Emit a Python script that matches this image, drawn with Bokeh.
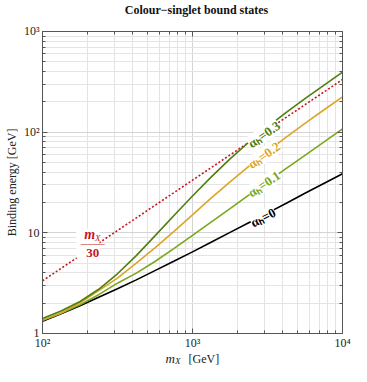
from bokeh.plotting import figure
from bokeh.models import FixedTicker, LogAxis, Label, BoxAnnotation, Range1d
from bokeh.embed import file_html
from bokeh.resources import INLINE

# ---- data ----
mass = [100, 133, 178, 237, 316, 422, 562, 750, 1000,
        1330, 1780, 2370, 3160, 4220, 5620, 7500, 10000]
eb_alpha_0 = [1.32, 1.57, 1.89, 2.29, 2.78, 3.41, 4.21, 5.21, 6.47,
              8.07, 10.1, 12.6, 15.7, 19.7, 24.7, 30.9, 38.6]
eb_alpha_01 = [1.35, 1.585, 1.93, 2.43, 3.16, 3.98, 5.19, 6.96, 9.42,
               12.8, 17.4, 23.7, 32.1, 43.6, 58.9, 79.6, 108]
eb_alpha_02 = [1.35, 1.60, 2.02, 2.67, 3.55, 5.01, 7.08, 10.3, 15.1,
               22.1, 32.1, 45.8, 64.4, 89.1, 122, 166, 224]
eb_alpha_03 = [1.41, 1.67, 2.08, 2.75, 3.92, 5.93, 9.33, 14.8, 23.2,
               35.8, 54.2, 79.4, 113, 157, 215, 292, 395]
ref_mass = [100, 10000]
ref_energy = [3.333, 333.3]          # m_X / 30

x_major = [100, 1000, 10000]
x_minor = [200, 300, 400, 500, 600, 700, 800, 900,
           2000, 3000, 4000, 5000, 6000, 7000, 8000, 9000]
y_major = [1, 10, 100, 1000]
y_minor = [2, 3, 4, 5, 6, 7, 8, 9, 20, 30, 40, 50, 60, 70, 80, 90,
           200, 300, 400, 500, 600, 700, 800, 900]
x_tick_labels = {100: "10²", 1000: "10³", 10000: "10⁴"}
y_tick_labels = {1: "1", 10: "10", 100: "10²", 1000: "10³"}
X_MIN, X_MAX, Y_MIN, Y_MAX = 100, 10000, 1, 1000

series = [
    (eb_alpha_0, "#000000", "αₕ=0", 2960, 14.2, 27),
    (eb_alpha_01, "#79a81b", "αₕ=0.1", 3000, 30.6, 34),
    (eb_alpha_02, "#dba628", "αₕ=0.2", 3000, 59, 35),
    (eb_alpha_03, "#4f7d0f", "αₕ=0.3", 3000, 95, 35),
]
RED = "#c4161c"
FONT = "Liberation Serif"
AX = "#555555"
TXT = "#222222"

# The frame fills the whole canvas; the axes sit at fixed data locations
# inside it, so tick labels, axis titles and the title are never clipped.
p = figure(width=351, height=366, x_axis_type="log", y_axis_type="log",
           x_range=Range1d(52.5, 11480), y_range=Range1d(0.470, 2032),
           output_backend="svg", toolbar_location=None, min_border=0)
p.outline_line_color = None
p.title.text = ""
p.title.visible = False

xt = FixedTicker(ticks=x_major, minor_ticks=x_minor)
yt = FixedTicker(ticks=y_major, minor_ticks=y_minor)
p.xaxis.ticker = xt
p.yaxis.ticker = yt
p.xgrid.ticker = xt
p.ygrid.ticker = yt
p.xaxis.major_label_overrides = x_tick_labels
p.yaxis.major_label_overrides = y_tick_labels
p.xaxis.fixed_location = Y_MIN
p.yaxis.fixed_location = X_MIN
p.xaxis.bounds = (X_MIN, X_MAX)
p.yaxis.bounds = (Y_MIN, Y_MAX)

for g in (p.xgrid, p.ygrid):
    g.grid_line_color = "#d4d4d4"
    g.minor_grid_line_color = "#e4e4e4"
    g.grid_line_alpha = 1

# white strips outside the plotting box hide the grid there
for kw in (dict(top=Y_MIN), dict(bottom=Y_MAX),
           dict(right=X_MIN), dict(left=X_MAX)):
    p.add_layout(BoxAnnotation(fill_color="white", fill_alpha=1,
                               line_color=None, level="underlay", **kw))

for ax in (p.xaxis, p.yaxis):
    ax.major_tick_in = 5
    ax.major_tick_out = 0
    ax.minor_tick_in = 3
    ax.minor_tick_out = 0
    ax.axis_line_color = AX
    ax.major_tick_line_color = AX
    ax.minor_tick_line_color = AX
    ax.major_label_text_font = FONT
    ax.major_label_text_font_size = "12px"
    ax.major_label_text_color = TXT
    ax.major_label_standoff = 3

p.yaxis.axis_label = "Binding energy [GeV]"
p.yaxis.axis_label_text_font = FONT
p.yaxis.axis_label_text_font_style = "normal"
p.yaxis.axis_label_text_font_size = "12px"
p.yaxis.axis_label_text_color = TXT
p.yaxis.axis_label_standoff = 2

# right and top edges of the plotting box, with inward ticks
for loc, tk, fixed, bnd in (("right", yt, X_MAX, (Y_MIN, Y_MAX)),
                            ("above", xt, Y_MAX, (X_MIN, X_MAX))):
    a = LogAxis(ticker=tk, fixed_location=fixed, bounds=bnd,
                major_label_text_color=None, major_label_text_font_size="1px",
                major_label_standoff=0, major_tick_in=5, major_tick_out=0,
                minor_tick_in=3, minor_tick_out=0,
                axis_line_color=AX, major_tick_line_color=AX,
                minor_tick_line_color=AX)
    p.add_layout(a, loc)

# title
p.add_layout(Label(x=1000, x_offset=4, y=357, y_units="screen",
                   text="Colour−singlet bound states", text_align="center",
                   text_baseline="middle", text_font=FONT,
                   text_font_style="bold", text_font_size="12px",
                   text_color="#111111"))

# reference line m_X/30
p.line(ref_mass, ref_energy, line_color=RED, line_width=1.6, line_dash="2 2")

for vals, col, txt, lx, ly, ang in series:
    p.line(mass, vals, line_color=col, line_width=1.6)

for vals, col, txt, lx, ly, ang in series:
    p.add_layout(Label(x=lx, y=ly, text=txt, angle=ang, angle_units="deg",
                       text_align="center", text_baseline="middle",
                       text_font=FONT, text_font_style="bold",
                       text_font_size="13px", text_color=col,
                       background_fill_color="white"))

# m_X / 30 fraction label
p.add_layout(BoxAnnotation(left=168, right=240, bottom=5.6, top=11,
                           fill_color="white", fill_alpha=1, line_color=None))
fx, fy = 216, 8.0
frac = [("m", -3, 8, "bold italic", "14px"),
        ("X", 5, 5, "italic", "9px"),
        ("——", 0, 0, "normal", "12px"),
        ("30", 0, -10, "bold", "13px")]
for t, dx, dy, st, sz in frac:
    p.add_layout(Label(x=fx, y=fy, x_offset=dx, y_offset=dy, text=t,
                       text_align="center", text_baseline="middle",
                       text_font=FONT, text_font_style=st,
                       text_font_size=sz, text_color=RED))

# x-axis title  m_X  [GeV]
xl = [("m", -27, 8, "italic", "13px"),
      ("X", -17.5, 5.5, "italic", "9px"),
      ("[GeV]", -4, 8, "normal", "12px")]
for t, dx, yy, st, sz in xl:
    p.add_layout(Label(x=1000, x_offset=dx, y=yy, y_units="screen", text=t,
                       text_align="left", text_baseline="alphabetic",
                       text_font=FONT, text_font_style=st, text_font_size=sz,
                       text_color=TXT))

open("out.html", "w").write(file_html(p, INLINE))
